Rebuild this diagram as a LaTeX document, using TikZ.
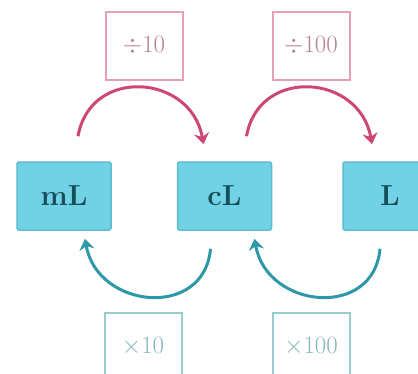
\documentclass[tikz,border=0pt]{standalone}
\usetikzlibrary{positioning}
\usetikzlibrary{arrows.meta}

\definecolor{unitfill}{RGB}{112,210,228}
\definecolor{unitdraw}{RGB}{96,188,204}
\definecolor{unittext}{RGB}{22,78,90}
\definecolor{divpink}{RGB}{206,70,115}
\definecolor{divbox}{RGB}{228,160,184}
\definecolor{multeal}{RGB}{44,152,168}
\definecolor{mulbox}{RGB}{150,204,210}

\begin{document}
\begin{tikzpicture}[x=1pt, y=1pt,
    unit/.style={rectangle,
          rounded corners=2pt,
          fill=unitfill,
          draw=unitdraw,
          line width=1.5pt,
          minimum width=94pt,
          minimum height=68pt,
          text=unittext,
          font=\fontsize{29}{31}\selectfont\bfseries},
    opbox/.style={rectangle,
          fill=white,
          line width=2pt,
          minimum width=77pt,
          minimum height=68pt,
          font=\fontsize{26}{28}\selectfont},
    >={Stealth[length=11pt, width=15pt]}]

    \useasboundingbox (0,0) rectangle (418,373);
    \clip (0,0) rectangle (418,373);

    \node[unit] (mL) at (64,177) {mL};
    \node[unit, right=65pt of mL] (cL) {cL};
    \node[unit, right=70pt of cL] (L) {L};

    \node[opbox, draw=divbox, text=divbox!80!black] (div10) at (144,327) {$\div 10$};
    \node[opbox, draw=divbox, text=divbox!80!black] (div100) at (311,327) {$\div 100$};
    \node[opbox, draw=mulbox, text=mulbox!90!black] (mul10) at (143,26) {$\times 10$};
    \node[opbox, draw=mulbox, text=mulbox!90!black] (mul100) at (311,26) {$\times 100$};

    % dividing: small unit to big unit
    \draw[->, line width=3pt, draw=divpink]
        ([xshift=14pt, yshift=25pt]mL.north) to[out=80, in=100, looseness=1.45]
        ([xshift=-21pt, yshift=17pt]cL.north);
    \draw[->, line width=3pt, draw=divpink]
        ([xshift=22pt, yshift=25pt]cL.north) to[out=80, in=100, looseness=1.45]
        ([xshift=-18pt, yshift=17pt]L.north);

    % multiplying: big unit to small unit
    \draw[->, line width=3pt, draw=multeal]
        ([xshift=-14pt, yshift=-18pt]cL.south) to[out=-95, in=-80, looseness=1.45]
        ([xshift=21pt, yshift=-8pt]mL.south);
    \draw[->, line width=3pt, draw=multeal]
        ([xshift=-10pt, yshift=-18pt]L.south) to[out=-95, in=-80, looseness=1.45]
        ([xshift=30pt, yshift=-8pt]cL.south);
\end{tikzpicture}
\end{document}
